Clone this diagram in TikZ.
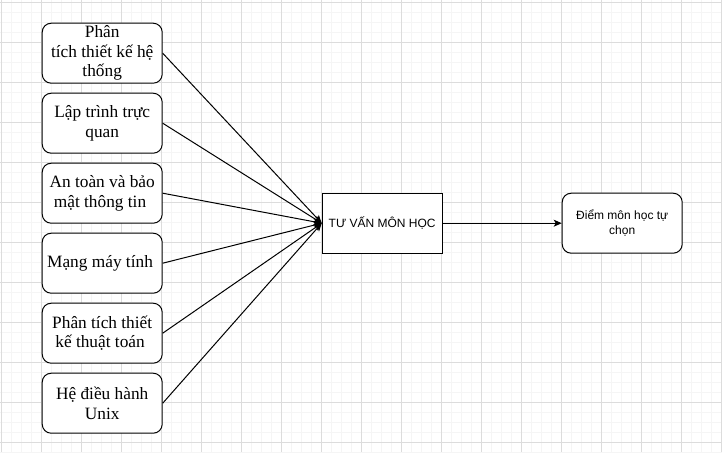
\documentclass[tikz,border=0pt]{standalone}
\usepackage{fontspec}
\setmainfont{Liberation Serif}
\newfontfamily\arialf{Liberation Sans}
\usetikzlibrary{arrows.meta}
\definecolor{gridmajor}{RGB}{220,220,220}
\definecolor{gridminor}{RGB}{245,245,245}
\newcommand{\tsp}{\rule{0.25em}{0pt}}
\begin{document}
\begin{tikzpicture}[x=1pt,y=-1pt,
  lbox/.style={draw, fill=white, line width=1pt, rounded corners=9pt,
    minimum width=120pt, minimum height=60pt, inner sep=0pt, align=center,
    anchor=north west, font=\fontsize{17.3}{19.5}\selectfont},
  cbox/.style={draw, fill=white, line width=1pt,
    minimum width=120pt, minimum height=60pt, inner sep=0pt, align=center,
    anchor=north west, font=\arialf\fontsize{12}{14.5}\selectfont},
  rbox/.style={cbox, rounded corners=9pt},
  arr/.style={line width=1pt, -{Stealth[length=8pt,width=7pt,inset=2pt]}}
]
\useasboundingbox (0,0) rectangle (722,452);
\fill[white] (0,0) rectangle (722,452);
\begin{scope}
\clip (0,0) rectangle (722,452);
\foreach \i in {0,...,72} {
  \draw[gridminor, line width=1pt] (1.7+10*\i,0) -- (1.7+10*\i,452);
}
\foreach \j in {0,...,45} {
  \draw[gridminor, line width=1pt] (0,2.7+10*\j) -- (722,2.7+10*\j);
}
\foreach \i in {0,...,18} {
  \draw[gridmajor, line width=1pt] (1.7+40*\i,0) -- (1.7+40*\i,452);
}
\foreach \j in {0,...,11} {
  \draw[gridmajor, line width=1pt] (0,2.7+40*\j) -- (722,2.7+40*\j);
}
\end{scope}

\node[lbox] (a1) at (41.7,22.7) {Phân\\ tích thiết kế hệ\\thống};
\node[lbox] (a2) at (41.7,92.7) {Lập trình trực\\quan};
\node[lbox] (a3) at (41.7,162.7) {An toàn và bảo\\mật thông tin\tsp};
\node[lbox] (a4) at (41.7,232.7) {Mạng máy tính\tsp};
\node[lbox] (a5) at (41.7,302.7) {Phân tích thiết\\kế thuật toán\tsp};
\node[lbox] (a6) at (41.7,372.7) {Hệ điều hành\\Unix};

\node[cbox] (c) at (321.7,192.7) {TƯ VẤN MÔN HỌC};
\node[rbox] (r) at (561.7,192.7) {Điểm môn học tự\\chọn};

\foreach \n in {a1,a2,a3,a4,a5,a6} {
  \draw[arr] (\n.east) -- (c.west);
}
\draw[arr] (c.east) -- (r.west);
\end{tikzpicture}
\end{document}
